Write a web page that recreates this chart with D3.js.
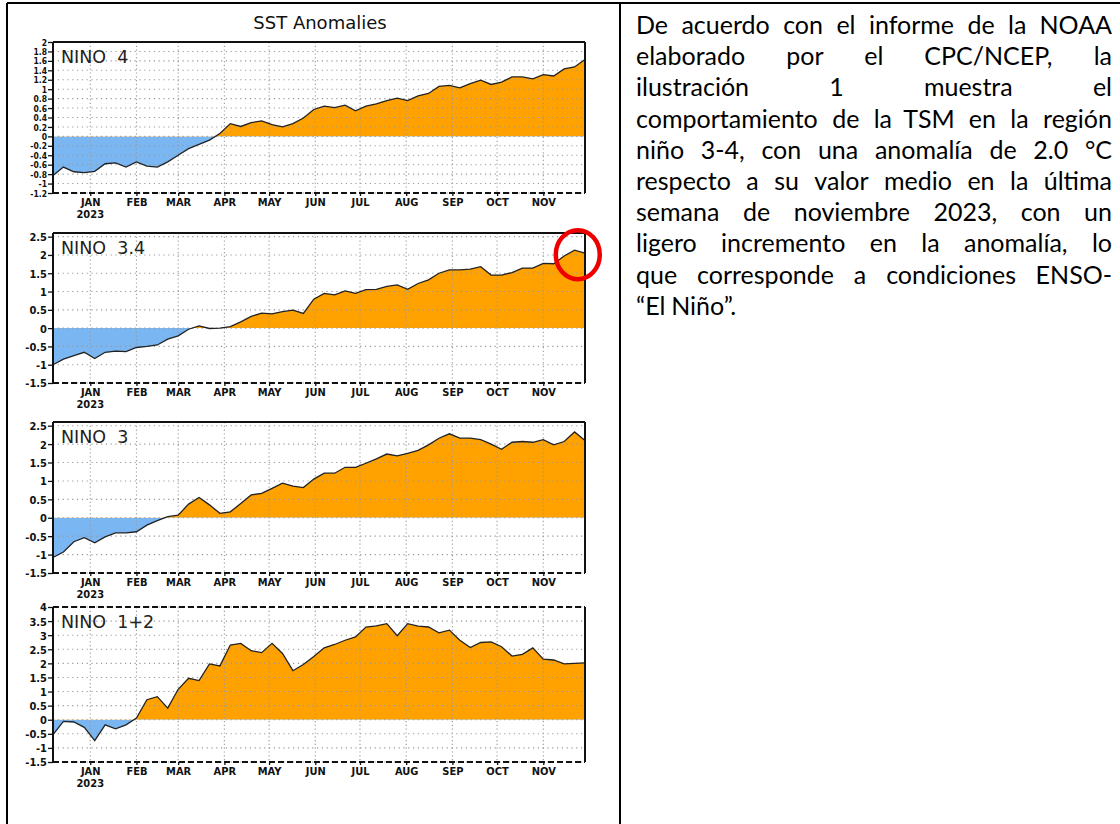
<!DOCTYPE html>
<html>
<head>
<meta charset="utf-8">
<script src="https://cdn.jsdelivr.net/npm/d3@7/dist/d3.min.js"></script>
<style>
    body { margin: 0; background: #fff; }
    .tick-lbl { font-family: "Liberation Sans Narrow", "DejaVu Sans Condensed", "DejaVu Sans", sans-serif; font-stretch: condensed; font-weight: bold; font-size: 11px; fill: #111; }
    .tick-small { font-size: 8.5px; }
    .region { font-family: "DejaVu Sans", sans-serif; font-size: 17.5px; fill: #222; white-space: pre; }
    .para { font-family: Lato, "Open Sans", sans-serif; font-size: 25px; fill: #000; }
</style>
</head>
<body>
<div id="chart"></div>
<script>
/** Weekly SST anomalies (deg C), first week centred on 7 Dec 2022 */
var nino4 = [-0.83, -0.65, -0.75, -0.77, -0.74, -0.58, -0.56, -0.65, -0.54, -0.63, -0.65, -0.54, -0.40,
    -0.26, -0.17, -0.08, 0.06, 0.27, 0.21, 0.29, 0.33, 0.25, 0.20, 0.27, 0.39, 0.57, 0.64, 0.61, 0.66,
    0.54, 0.64, 0.69, 0.76, 0.81, 0.76, 0.86, 0.91, 1.06, 1.08, 1.03, 1.12, 1.19, 1.10, 1.15, 1.26,
    1.26, 1.22, 1.31, 1.28, 1.43, 1.47, 1.63];
var nino34 = [-1.00, -0.85, -0.75, -0.66, -0.83, -0.66, -0.63, -0.64, -0.53, -0.50, -0.46, -0.30, -0.21,
    -0.03, 0.06, -0.01, 0.00, 0.04, 0.17, 0.32, 0.41, 0.39, 0.45, 0.49, 0.40, 0.79, 0.95, 0.91, 1.02,
    0.95, 1.05, 1.06, 1.14, 1.18, 1.06, 1.22, 1.32, 1.50, 1.59, 1.59, 1.61, 1.68, 1.45, 1.45, 1.52,
    1.64, 1.64, 1.77, 1.76, 1.97, 2.13, 2.05];
var nino3 = [-1.08, -0.93, -0.65, -0.54, -0.68, -0.52, -0.41, -0.41, -0.38, -0.20, -0.08, 0.03, 0.07,
    0.37, 0.55, 0.35, 0.12, 0.16, 0.39, 0.62, 0.66, 0.80, 0.94, 0.86, 0.82, 1.05, 1.21, 1.21, 1.37,
    1.37, 1.48, 1.60, 1.73, 1.68, 1.75, 1.83, 1.98, 2.16, 2.28, 2.16, 2.16, 2.12, 2.00, 1.86, 2.05,
    2.07, 2.05, 2.12, 1.98, 2.07, 2.33, 2.10];
var nino12 = [-0.53, -0.06, -0.08, -0.27, -0.74, -0.18, -0.32, -0.18, 0.06, 0.71, 0.82, 0.41, 1.08,
    1.47, 1.39, 1.98, 1.91, 2.65, 2.71, 2.45, 2.38, 2.71, 2.35, 1.74, 1.96, 2.24, 2.55, 2.67, 2.82,
    2.94, 3.29, 3.33, 3.41, 2.98, 3.41, 3.32, 3.29, 3.08, 3.18, 2.82, 2.56, 2.74, 2.76, 2.59, 2.26,
    2.32, 2.55, 2.15, 2.12, 1.98, 2.00, 2.02];

var regionNames = ['NINO  4', 'NINO  3.4', 'NINO  3', 'NINO  1+2'];
var monthLabels = ['JAN', 'FEB', 'MAR', 'APR', 'MAY', 'JUN', 'JUL', 'AUG', 'SEP', 'OCT', 'NOV'];
var yearLabel = '2023';
var chartTitle = 'SST Anomalies';

var nino4Ticks = [2, 1.8, 1.6, 1.4, 1.2, 1, 0.8, 0.6, 0.4, 0.2, 0, -0.2, -0.4, -0.6, -0.8, -1, -1.2];
var nino34Ticks = [2.5, 2, 1.5, 1, 0.5, 0, -0.5, -1, -1.5];
var nino3Ticks = [2.5, 2, 1.5, 1, 0.5, 0, -0.5, -1, -1.5];
var nino12Ticks = [4, 3.5, 3, 2.5, 2, 1.5, 1, 0.5, 0, -0.5, -1, -1.5];

var paragraphLines = [
    'De acuerdo con el informe de la NOAA',
    'elaborado por el CPC/NCEP, la',
    'ilustración 1 muestra el',
    'comportamiento de la TSM en la región',
    'niño 3-4, con una anomalía de 2.0 °C',
    'respecto a su valor medio en la última',
    'semana de noviembre 2023, con un',
    'ligero incremento en la anomalía, lo',
    'que corresponde a condiciones ENSO-',
    '“El Niño”.'
];

var width = 1120, height = 824;
var plotLeft = 53, plotRight = 585;
var orange = '#ffa200', blue = '#79b6f2';

var svg = d3.select('#chart').append('svg')
    .attr('width', width)
    .attr('height', height)
    .style('display', 'block')
    .style('background', '#fff');

// Table frame around the figure and the text
var frame = svg.append('g').attr('stroke', '#000').attr('stroke-width', 2);
frame.append('line').attr('x1', 7).attr('x2', width).attr('y1', 3).attr('y2', 3);
frame.append('line').attr('x1', 7).attr('x2', 7).attr('y1', 3).attr('y2', height);
frame.append('line').attr('x1', 620).attr('x2', 620).attr('y1', 3).attr('y2', height);

// Weekly dates and month ticks
var firstWeek = new Date(2022, 11, 7);
var dates = nino4.map(function(d, i) { return d3.timeDay.offset(firstWeek, 7 * i); });
var monthDates = d3.timeMonth.range(new Date(2023, 0, 1), new Date(2023, 11, 1));

var x = d3.scaleTime()
    .domain([dates[0], dates[dates.length - 1]])
    .range([plotLeft, plotRight]);

svg.append('text')
    .attr('x', (plotLeft + plotRight) / 2 + 1)
    .attr('y', 29)
    .attr('text-anchor', 'middle')
    .style('font-family', '"DejaVu Sans", sans-serif')
    .style('font-size', '18px')
    .attr('fill', '#111')
    .text(chartTitle);

var panels = [
    { name: regionNames[0], values: nino4, ticks: nino4Ticks, domain: [-1.2, 2], top: 42, bottom: 193, dashedTop: false, small: true },
    { name: regionNames[1], values: nino34, ticks: nino34Ticks, domain: [-1.5, 2.6], top: 233, bottom: 383, dashedTop: false },
    { name: regionNames[2], values: nino3, ticks: nino3Ticks, domain: [-1.5, 2.6], top: 422, bottom: 573, dashedTop: false },
    { name: regionNames[3], values: nino12, ticks: nino12Ticks, domain: [-1.5, 4], top: 607, bottom: 762, dashedTop: true }
];

var circleTarget;

panels.forEach(function(p, pi) {
    var y = d3.scaleLinear().domain(p.domain).range([p.bottom, p.top]);
    var g = svg.append('g');
    var data = p.values.map(function(v, i) { return { date: dates[i], value: v }; });

    // Clip areas above and below zero
    g.append('clipPath').attr('id', 'above' + pi)
        .append('rect').attr('x', plotLeft).attr('y', p.top)
        .attr('width', plotRight - plotLeft).attr('height', y(0) - p.top);
    g.append('clipPath').attr('id', 'below' + pi)
        .append('rect').attr('x', plotLeft).attr('y', y(0))
        .attr('width', plotRight - plotLeft).attr('height', p.bottom - y(0));

    var area = d3.area()
        .x(function(d) { return x(d.date); })
        .y0(y(0))
        .y1(function(d) { return y(d.value); });

    g.append('path').datum(data).attr('d', area)
        .attr('fill', orange).attr('clip-path', 'url(#above' + pi + ')');
    g.append('path').datum(data).attr('d', area)
        .attr('fill', blue).attr('clip-path', 'url(#below' + pi + ')');

    // Dotted grid on top of the fill
    var grid = g.append('g').attr('stroke', '#999').attr('stroke-width', 1.1);
    grid.selectAll('line.h').data(p.ticks).enter().append('line')
        .attr('x1', plotLeft).attr('x2', plotRight)
        .attr('y1', function(d) { return y(d); })
        .attr('y2', function(d) { return y(d); })
        .attr('stroke-dasharray', '1.2,3.6');
    grid.selectAll('line.v').data(monthDates).enter().append('line')
        .attr('x1', function(d) { return x(d); })
        .attr('x2', function(d) { return x(d); })
        .attr('y1', p.top).attr('y2', p.bottom)
        .attr('stroke-dasharray', '1.2,2.6');

    // Anomaly line
    g.append('path').datum(data)
        .attr('d', d3.line().x(function(d) { return x(d.date); }).y(function(d) { return y(d.value); }))
        .attr('fill', 'none').attr('stroke', '#222').attr('stroke-width', 1.3);

    // Plot frame, dashed along the bottom
    var box = g.append('g').attr('stroke', '#111').attr('stroke-width', 2).attr('fill', 'none');
    box.append('line').attr('x1', plotLeft).attr('x2', plotLeft).attr('y1', p.top).attr('y2', p.bottom);
    box.append('line').attr('x1', plotRight).attr('x2', plotRight).attr('y1', p.top).attr('y2', p.bottom);
    box.append('line').attr('x1', plotLeft).attr('x2', plotRight).attr('y1', p.top).attr('y2', p.top)
        .attr('stroke-dasharray', p.dashedTop ? '6,3' : null);
    box.append('line').attr('x1', plotLeft).attr('x2', plotRight).attr('y1', p.bottom).attr('y2', p.bottom)
        .attr('stroke-dasharray', '6,3');

    // Y axis
    var yAxis = g.append('g')
        .attr('transform', 'translate(' + plotLeft + ',0)')
        .call(d3.axisLeft(y).tickValues(p.ticks).tickSize(5).tickPadding(1)
            .tickFormat(function(d) { return String(d); }));
    yAxis.select('.domain').remove();
    yAxis.selectAll('line').attr('stroke', '#111').attr('stroke-width', 1.3);
    yAxis.selectAll('text').attr('class', p.small ? 'tick-lbl tick-small' : 'tick-lbl')
        .attr('fill', null).attr('dy', '0.36em');

    // X axis
    var xAxis = g.append('g')
        .attr('transform', 'translate(0,' + p.bottom + ')')
        .call(d3.axisBottom(x).tickValues(monthDates).tickSize(3).tickPadding(2)
            .tickFormat(function(d, i) { return monthLabels[i]; }));
    xAxis.select('.domain').remove();
    xAxis.selectAll('line').attr('stroke', '#111').attr('stroke-width', 1.3);
    xAxis.selectAll('text').attr('class', 'tick-lbl').attr('fill', null)
        .attr('y', 0).attr('dy', null).attr('transform', 'translate(0,12.5)');

    g.append('text').attr('class', 'tick-lbl')
        .attr('x', x(monthDates[0])).attr('y', p.bottom + 24.5)
        .attr('text-anchor', 'middle')
        .text(yearLabel);

    g.append('text').attr('class', 'region')
        .attr('x', plotLeft + 8).attr('y', p.top + 21)
        .text(p.name);

    if (pi == 1) {
        var n = data.length;
        circleTarget = {
            cx: (x(data[n - 2].date) + x(data[n - 1].date)) / 2 - 2,
            cy: y((data[n - 2].value + data[n - 1].value) / 2) + 3
        };
    }
});

// Red circle marking the last NINO 3.4 weeks
svg.append('ellipse')
    .attr('cx', circleTarget.cx).attr('cy', circleTarget.cy)
    .attr('rx', 22).attr('ry', 24.5)
    .attr('fill', 'none').attr('stroke', '#ee0000').attr('stroke-width', 4.5);

// Justified paragraph in the right cell
var textLeft = 636, textRight = 1112, firstBaseline = 34, lineStep = 31.2;
paragraphLines.forEach(function(line, li) {
    var words = line.split(' ');
    var t = svg.append('text').attr('class', 'para').attr('y', firstBaseline + li * lineStep);
    var spans = words.map(function(w) { return t.append('tspan').text(w); });
    var widths = spans.map(function(s) { return s.node().getComputedTextLength(); });
    var total = d3.sum(widths);
    var isLast = li == paragraphLines.length - 1;
    var gap = (isLast || words.length < 2) ? 6 : (textRight - textLeft - total) / (words.length - 1);
    var pos = textLeft;
    spans.forEach(function(s, i) {
        s.attr('x', pos);
        pos += widths[i] + gap;
    });
});
</script>
</body>
</html>
